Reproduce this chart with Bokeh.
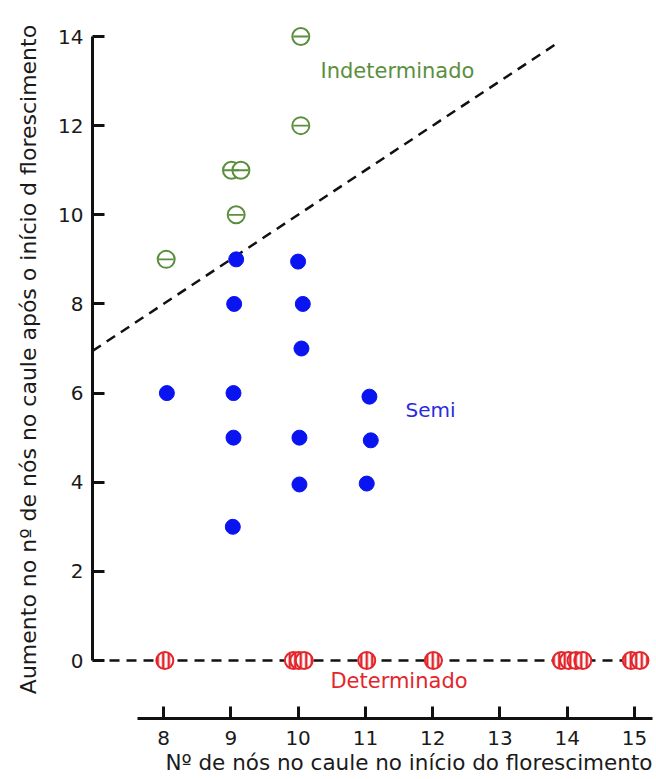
from bokeh.plotting import figure
from bokeh.models import Range1d, FixedTicker, Label, Title
from bokeh.embed import file_html
from bokeh.resources import INLINE

# ---- data ----
x_ticks = [8, 9, 10, 11, 12, 13, 14, 15]
y_ticks = [0, 2, 4, 6, 8, 10, 12, 14]

indet_x = [8.04, 9.01, 9.15, 9.08, 10.04, 10.04]
indet_y = [9, 11, 11, 10, 14, 12]

semi_x = [8.05, 9.08, 9.05, 9.04, 9.04, 9.03, 10.0, 10.07, 10.05, 10.02, 10.02, 11.06, 11.08, 11.02]
semi_y = [6, 9, 8, 6, 5, 3, 8.95, 8, 7, 5, 3.95, 5.92, 4.94, 3.97]

det_x = [8.02, 9.93, 10.01, 10.09, 11.02, 12.01, 13.91, 14.02, 14.13, 14.23, 14.95, 15.08]
det_y = [0, 0, 0, 0, 0, 0, 0, 0, 0, 0, 0, 0]

boundary_x = [6.945, 13.85]
boundary_y = [6.945, 13.85]
zero_x = [6.945, 15.266]
zero_y = [0, 0]

FONT = "DejaVu Sans"
GREEN = "#5b8f3e"
BLUE = "#0a14f0"
RED = "#e3262b"

p = figure(width=656, height=779,
           x_range=Range1d(6.945, 15.266), y_range=Range1d(-1.301, 14.808),
           output_backend="svg", toolbar_location=None,
           min_border_left=92, min_border_right=4, min_border_top=0, min_border_bottom=61)
p.background_fill_color = "white"
p.border_fill_color = "white"
p.outline_line_color = None
p.grid.visible = False

for ax in (p.xaxis, p.yaxis):
    ax.axis_line_width = 3
    ax.axis_line_color = "#111111"
    ax.major_tick_line_width = 3
    ax.major_tick_line_color = "#111111"
    ax.major_tick_in = 12
    ax.major_tick_out = 0
    ax.minor_tick_line_color = None
    ax.major_label_text_font = FONT
    ax.major_label_text_font_size = "20px"
    ax.major_label_text_color = "#1a1a1a"
    ax.axis_label_text_font = FONT
    ax.axis_label_text_font_style = "normal"
    ax.axis_label_text_color = "#1a1a1a"

p.xaxis.ticker = FixedTicker(ticks=x_ticks)
p.yaxis.ticker = FixedTicker(ticks=y_ticks)
p.xaxis.bounds = (7.614, 15.266)
p.yaxis.bounds = (0, 14)
p.xaxis.major_label_standoff = 12
p.yaxis.major_label_standoff = 9

p.yaxis.axis_label = "Aumento no nº de nós no caule após o início d florescimento"
p.yaxis.axis_label_text_font_size = "22px"
p.yaxis.axis_label_standoff = 14

# x axis title, right-aligned below the axis as in the reference
xtitle = Title(text="Nº de nós no caule no início do florescimento", align="right",
               text_font=FONT, text_font_size="21.5px", text_font_style="normal",
               text_color="#1a1a1a", standoff=0, offset=0)
p.add_layout(xtitle, "below")

# dashed lines
p.line(zero_x, zero_y, line_color="#111111", line_width=2.5, line_dash="10 7")
p.line(boundary_x, boundary_y, line_color="#111111", line_width=2.5, line_dash="10 7")

# Indeterminado (green hollow, with bar)
p.scatter(indet_x, indet_y, marker="circle", size=17, fill_color="white",
          line_color=GREEN, line_width=2)
p.scatter(indet_x, indet_y, marker="dash", size=15, line_color=GREEN, line_width=1.8)

# Semi (blue filled)
p.scatter(semi_x, semi_y, marker="circle", size=15, fill_color=BLUE, line_color=BLUE)

# Determinado (red striped)
p.scatter(det_x, det_y, marker="circle", size=17, fill_color="white", line_color=RED,
          line_width=2, hatch_pattern="vertical_line", hatch_color=RED,
          hatch_scale=5.5, hatch_weight=2.5)

# category labels
p.add_layout(Label(x=10.333, y=12.95, text="Indeterminado", text_font=FONT,
                   text_font_size="21px", text_color=GREEN))
p.add_layout(Label(x=11.596, y=5.36, text="Semi", text_font=FONT,
                   text_font_size="20px", text_color="#2b2bdc"))
p.add_layout(Label(x=10.48, y=-0.718, text="Determinado", text_font=FONT,
                   text_font_size="21px", text_color=RED))

open("out.html", "w").write(file_html(p, INLINE))
